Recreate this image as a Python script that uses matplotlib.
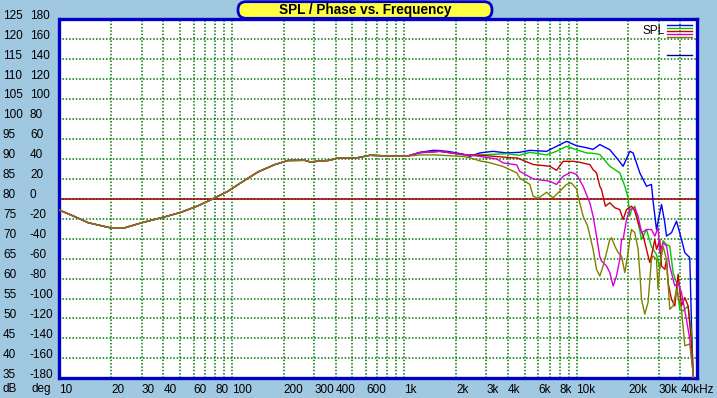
import matplotlib
matplotlib.use("Agg")
import matplotlib.pyplot as plt
from matplotlib.patches import FancyBboxPatch
from matplotlib.transforms import IdentityTransform, blended_transform_factory

plt.rcParams['font.family'] = ['Liberation Sans', 'DejaVu Sans']

# common low-frequency part (all curves overlap here)
freq_low = [10, 12.3, 14.7, 19.6, 24, 30, 41, 51, 64, 76, 95, 114, 142, 178,
            212, 265, 284, 371, 414, 529, 632, 826, 1032]
spl_low = [77.15, 75.5, 74.0, 72.75, 72.75, 74.0, 75.5, 76.65, 78.3, 79.8, 81.9,
           84.15, 86.75, 88.6, 89.6, 89.65, 89.25, 89.65, 90.3, 90.25, 90.9,
           90.75, 90.65]

freq_blue = [1234, 1473, 1613, 1841, 2199, 2404, 2750, 3274, 3926, 4673, 5358,
             6700, 7650, 8750, 10000, 11430, 12480, 13650, 15600, 17430, 18630,
             20380, 21290, 23290, 25460, 27210, 27810, 29110, 31120, 32520,
             33270, 35560, 38020, 40640, 42500, 45400, 46400, 47400, 50000]
spl_blue = [91.65, 92.15, 92.1, 91.8, 91.2, 90.65, 91.5, 91.9, 91.5, 91.65,
            92.15, 91.9, 93.15, 94.4, 93.3, 92.8, 92.4, 93.6, 92.3, 89.8, 88.15,
            91.9, 91.5, 86.5, 83.15, 83.6, 79.4, 72.3, 78.6, 74.0, 70.65, 71.5,
            74.4, 69.8, 66.5, 65.25, 49.0, 36.5, 10]

freq_green = [1234, 1613, 2199, 2750, 3926, 4673, 5358, 6700, 7650, 8750, 10000,
              11430, 12480, 13650, 15600, 17830, 19060, 19920, 20380, 20830,
              21780, 22770, 23830, 25460, 27210, 29110, 30420, 31770, 33270,
              34760, 36330, 38020, 39720, 41500, 44400, 46400, 47400, 50000]
spl_green = [91.5, 91.9, 91.0, 91.0, 91.3, 90.9, 91.65, 91.0, 91.9, 93.15, 92.3,
             91.5, 91.4, 91.1, 88.15, 86.5, 83.15, 80.25, 75.65, 77.3, 78.15,
             74.0, 69.8, 72.3, 68.0, 66.0, 62.5, 69.5, 68.5, 68.15, 61.5, 59.0,
             52.3, 51.9, 53.15, 46.6, 36.5, 10]

freq_red = [1234, 1613, 2199, 2750, 3100, 4300, 4520, 5600, 7000, 7650, 8360,
            9550, 10450, 11430, 11940, 12480, 13060, 13650, 13960, 14700, 15600,
            16680, 17830, 18630, 19500, 20830, 21780, 22770, 24400, 25460,
            26610, 27210, 28470, 29110, 30420, 31120, 32520, 33270, 33970,
            35560, 37170, 38840, 40640, 42500, 44400, 46400, 47400, 50000]
spl_red = [91.6, 91.9, 91.1, 90.9, 90.75, 90.25, 90.25, 88.6, 88.15, 87.15, 89.4,
           89.4, 89.15, 88.75, 88.6, 87.3, 86.5, 83.15, 82.3, 78.15, 79.0, 77.75,
           77.3, 74.8, 77.3, 78.15, 76.9, 74.0, 70.65, 67.3, 64.0, 65.65, 69.8,
           67.3, 69.8, 63.15, 62.3, 64.8, 59.0, 54.8, 53.15, 61.1, 53.15, 55.25,
           53.15, 44.0, 36.5, 10]

freq_magenta = [1234, 1613, 2199, 2750, 2873, 3436, 3750, 4500, 4673, 5600,
                7000, 7650, 8360, 9300, 10000, 10920, 11940, 12480, 13060, 13650,
                13960, 14930, 15600, 16300, 17060, 17830, 18240, 18630, 19500,
                20380, 21780, 22770, 23830, 25460, 27210, 28470, 29720, 30420,
                31770, 33270, 34760, 37170, 38840, 40640, 43400, 45400, 47400,
                50000]
spl_magenta = [91.6, 91.9, 91.1, 90.65, 90.5, 90.0, 89.0, 88.5, 86.9, 85.0,
               84.4, 83.6, 85.65, 86.65, 86.1, 83.15, 79.0, 75.65, 70.65, 65.5,
               64.4, 63.15, 61.5, 58.15, 60.65, 64.8, 69.8, 69.8, 74.8, 77.3,
               77.75, 75.65, 71.5, 72.3, 72.3, 70.65, 72.75, 66.5, 69.0, 68.15,
               63.15, 58.15, 59.0, 56.5, 49.8, 44.8, 36.5, 10]

freq_olive = [1234, 1500, 1841, 2199, 2404, 2750, 3100, 3750, 4500, 4673, 5358,
              5600, 5990, 6700, 7310, 8360, 8750, 9300, 10000, 10210, 10920,
              11600, 12480, 13060, 13650, 14260, 14930, 15600, 15960, 16680,
              17430, 18240, 19060, 19920, 20380, 20830, 21780, 22770, 23290,
              23830, 24880, 26000, 27210, 27810, 29110, 29720, 30420, 31770,
              33270, 34760, 36330, 38020, 40640, 42500, 45400, 47400, 50000]
spl_olive = [91.0, 91.0, 90.8, 90.6, 90.3, 89.5, 89.1, 88.1, 86.5, 85.25, 83.6,
             80.65, 80.1, 81.65, 80.25, 82.75, 83.6, 84.0, 82.5, 80.65, 75.65,
             73.15, 67.3, 62.3, 60.65, 63.15, 66.5, 69.8, 70.25, 68.15, 66.5,
             65.65, 61.5, 66.5, 69.8, 72.3, 71.5, 67.3, 61.5, 54.8, 51.1, 54.0,
             64.8, 65.65, 64.8, 57.3, 63.15, 68.15, 64.8, 52.3, 53.15, 57.3,
             52.3, 43.15, 43.6, 36.5, 10]

series = [
    ("blue", freq_blue, spl_blue, "#0000ff"),
    ("green", freq_green, spl_green, "#00c800"),
    ("red", freq_red, spl_red, "#c80000"),
    ("magenta", freq_magenta, spl_magenta, "#d800d8"),
    ("olive", freq_olive, spl_olive, "#808000"),
]

x_labeled = [10, 20, 30, 40, 60, 80, 100, 200, 300, 400, 600, 1000, 2000, 3000,
             4000, 6000, 8000, 10000, 20000, 30000, 40000]
x_labels = ["10", "20", "30", "40", "60", "80", "100", "200", "300", "400",
            "600", "1k", "2k", "3k", "4k", "6k", "8k", "10k", "20k", "30k",
            "40kHz"]
db_ticks = list(range(125, 34, -5))
deg_ticks = list(range(180, -181, -20))

W, H = 717, 398
bg = "#a0c8e0"
fig = plt.figure(figsize=(W / 100, H / 100), dpi=100, facecolor=bg)
ax = fig.add_axes([59.5 / W, 1 - 378.3 / H, 637.5 / W, 359 / H])
ax.set_facecolor("white")
ax.set_xscale("log")
ax.set_xlim(10, 50000)
ax.set_ylim(35, 125)

# grid: every 1..9 per decade, every 5 dB
minor = [m * 10 ** d for d in range(1, 5) for m in range(1, 10)
         if m * 10 ** d not in x_labeled and m * 10 ** d < 50000]
ax.set_xticks(x_labeled, x_labels)
ax.set_xticks(minor, minor=True)
ax.set_yticks(db_ticks[1:-1])
ax.set_yticklabels([])
ax.tick_params(axis="both", which="both", length=0)
ax.tick_params(axis="x", pad=4, labelsize=8.5)
for lbl in ax.get_xticklabels():
    lbl.set_ha("left")
ax.grid(True, which="both", color="#007800", linestyle=(0, (1, 1.2)),
        linewidth=1.1)
ax.axhline(80, color="#a00000", linewidth=1.1, zorder=2)

for name, f, s, c in series:
    ax.plot(freq_low + f, spl_low + s, color=c, linewidth=1.0, zorder=3)

for sp in ax.spines.values():
    sp.set_color("#0000c8")
    sp.set_linewidth(2.4)

# left value columns
trans = blended_transform_factory(fig.transFigure, ax.transData)
for db, deg in zip(db_ticks, deg_ticks):
    ax.text(3 / W, db + 0.9, str(db), transform=trans, fontsize=8.5,
            va="center", ha="left", clip_on=False)
    ax.text(30 / W, db + 0.9, str(deg), transform=trans, fontsize=8.5,
            va="center", ha="left", clip_on=False)
fig.text(3 / W, 1 - 389 / H, "dB", fontsize=8.5, va="center", ha="left")
fig.text(31 / W, 1 - 389 / H, "deg", fontsize=8.5, va="center", ha="left")

# legend
ax.text(0.9486, 0.9666, "SPL", transform=ax.transAxes, fontsize=8.5,
        ha="right", va="center")
for i, (name, f, s, c) in enumerate(series):
    yy = 0.983 - i * 0.00835
    ax.plot([0.9525, 0.9917], [yy, yy], transform=ax.transAxes, color=c,
            linewidth=1.0, zorder=4)
ax.plot([0.9525, 0.9917], [0.9006, 0.9006], transform=ax.transAxes,
        color="#0000a0", linewidth=1.0, zorder=4)

# title box
box = FancyBboxPatch((238, H - 18.3), 254, 16.6,
                     boxstyle="round,pad=0,rounding_size=8",
                     transform=IdentityTransform(), facecolor="#ffff40",
                     edgecolor="#0000c8", linewidth=2.0, zorder=5)
fig.patches.append(box)
fig.text(365 / W, 1 - 10 / H, "SPL / Phase vs. Frequency", fontsize=9.8,
         fontweight="bold", ha="center", va="center", zorder=6)

fig.savefig("out.png", dpi=100, facecolor=bg)
